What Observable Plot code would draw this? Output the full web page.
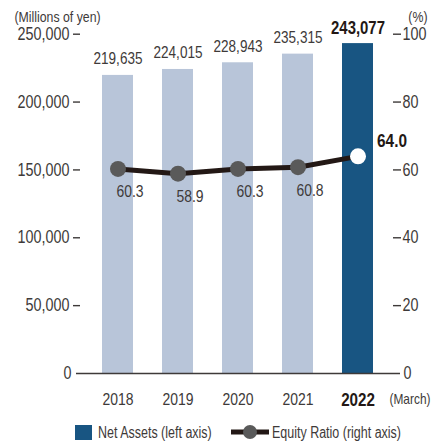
<!DOCTYPE html>
<html>
<head>
<meta charset="utf-8">
<script src="https://cdn.jsdelivr.net/npm/d3@7"></script>
<script src="https://cdn.jsdelivr.net/npm/@observablehq/plot@0.6"></script>
<style>
  html, body { margin: 0; padding: 0; background: #fff; }
  body { width: 443px; height: 443px; overflow: hidden; font-family: "Liberation Sans", Arial, sans-serif; color: #3e3a39; position: relative; }
  #legend { position: absolute; left: 0; top: 415px; width: 443px; height: 28px; font-size: 16px; white-space: nowrap; }
  #legend .sw { position: absolute; left: 75px; top: 10px; width: 17px; height: 15px; background: #185582; }
  #legend .tx { position: absolute; top: 8.5px; line-height: 18px; transform: scaleX(0.78); transform-origin: left center; }
  #legend .ln { position: absolute; left: 230px; top: 9px; }
</style>
</head>
<body>
<div id="chart"></div>
<div id="legend">
  <span class="sw"></span><span class="tx" style="left:98px">Net Assets (left axis)</span>
  <svg class="ln" width="40" height="16"><line x1="1" y1="8" x2="39" y2="8" stroke="#231815" stroke-width="5"/><circle cx="20" cy="8" r="7" fill="#5a5a5a"/></svg><span class="tx" style="left:272px">Equity Ratio (right axis)</span>
</div>
<script>
const years = ["2018", "2019", "2020", "2021", "2022"];
const netAssets = [219635, 224015, 228943, 235315, 243077];
const equityRatio = [60.3, 58.9, 60.3, 60.8, 64.0];
const leftTicks = [50000, 100000, 150000, 200000, 250000];
const rightTicks = [20, 40, 60, 80, 100];
const highlightYear = "2022";

const ratioScale = 2500; // 100% on right axis == 250,000 on left axis
const data = years.map((year, i) => ({
  year,
  assets: netAssets[i],
  ratio: equityRatio[i],
  ratioY: equityRatio[i] * ratioScale,
  hi: year === highlightYear
}));
const fmt = d3.format(",");
const font = "Liberation Sans, Arial, sans-serif";

const chart = Plot.plot({
  width: 443,
  height: 415,
  marginLeft: 80,
  marginRight: 51,
  marginTop: 33.7,
  marginBottom: 42,
  style: { fontFamily: font, color: "#3e3a39", background: "#fff" },
  x: { domain: years, range: [85.75, 388.25], paddingInner: 0.49, paddingOuter: 0.245, axis: null, label: null },
  y: { domain: [0, 250000], axis: null, label: null },
  marks: [
    Plot.barY(data, { x: "year", y: "assets", fill: d => d.hi ? "#185582" : "#b8c5d9" }),
    Plot.ruleY([0], { stroke: "#3e3a39", strokeWidth: 1.5, insetLeft: -4, insetRight: -8 }),
    // left axis
    Plot.axisY({ anchor: "left", ticks: leftTicks, tickFormat: fmt, tickSize: 7, tickPadding: 4, fontSize: 17.5, strokeWidth: 1.4, label: null }),
    Plot.axisY({ anchor: "left", ticks: [0], tickFormat: fmt, tickSize: 0, tickPadding: 9, fontSize: 17.5, label: null }),
    // right axis
    Plot.axisY({ anchor: "right", ticks: rightTicks.map(v => v * ratioScale), tickFormat: d => d / ratioScale, tickSize: 8, tickPadding: 2, fontSize: 17.5, strokeWidth: 1.4, label: null }),
    Plot.axisY({ anchor: "right", ticks: [0], tickFormat: d => d / ratioScale, tickSize: 0, tickPadding: 11, fontSize: 17.5, label: null }),
    // x axis
    Plot.axisX({ ticks: years.filter(y => y !== highlightYear), tickSize: 0, tickPadding: 19, fontSize: 17, label: null }),
    Plot.axisX({ ticks: [highlightYear], tickSize: 0, tickPadding: 19, fontSize: 18.5, fontWeight: "bold", fill: "#231815", label: null }),
    // value labels
    Plot.text(data.filter(d => !d.hi), { x: "year", y: "assets", text: d => fmt(d.assets), lineAnchor: "bottom", dy: -11, fontSize: 16.5 }),
    Plot.text(data.filter(d => d.hi), { x: "year", y: "assets", text: d => fmt(d.assets), lineAnchor: "bottom", dy: -10, fontSize: 18.2, fontWeight: "bold", fill: "#231815" }),
    // equity ratio line
    Plot.line(data, { x: "year", y: "ratioY", stroke: "#231815", strokeWidth: 5 }),
    Plot.dot(data.filter(d => !d.hi), { x: "year", y: "ratioY", r: 8, fill: "#5a5a5a" }),
    Plot.dot(data.filter(d => d.hi), { x: "year", y: "ratioY", r: 8, fill: "#ffffff" }),
    Plot.text(data.filter(d => !d.hi), { x: "year", y: "ratioY", text: d => d.ratio.toFixed(1), dx: 12, dy: 23, fontSize: 17 }),
    Plot.text(data.filter(d => d.hi), { x: "year", y: "ratioY", text: d => d.ratio.toFixed(1), dx: 34, dy: -15, fontSize: 18.8, fontWeight: "bold", fill: "#231815" }),
    // unit labels
    Plot.text(["(Millions of yen)"], { frameAnchor: "top-left", textAnchor: "start", lineAnchor: "top", dx: -66, dy: -23, fontSize: 15 }),
    Plot.text(["(%)"], { frameAnchor: "top-right", textAnchor: "end", lineAnchor: "top", dx: 35, dy: -23, fontSize: 15 }),
    Plot.text(["(March)"], { frameAnchor: "bottom-right", textAnchor: "start", lineAnchor: "middle", dx: -3, dy: 26, fontSize: 14.5 })
  ]
});
document.getElementById("chart").appendChild(chart);
// Narrow the glyphs (condensed look, like Arial Narrow)
chart.querySelectorAll("text").forEach(t => {
  const L = t.getComputedTextLength();
  if (L > 0) {
    t.setAttribute("textLength", (L * 0.82).toFixed(2));
    t.setAttribute("lengthAdjust", "spacingAndGlyphs");
  }
});
</script>
</body>
</html>
